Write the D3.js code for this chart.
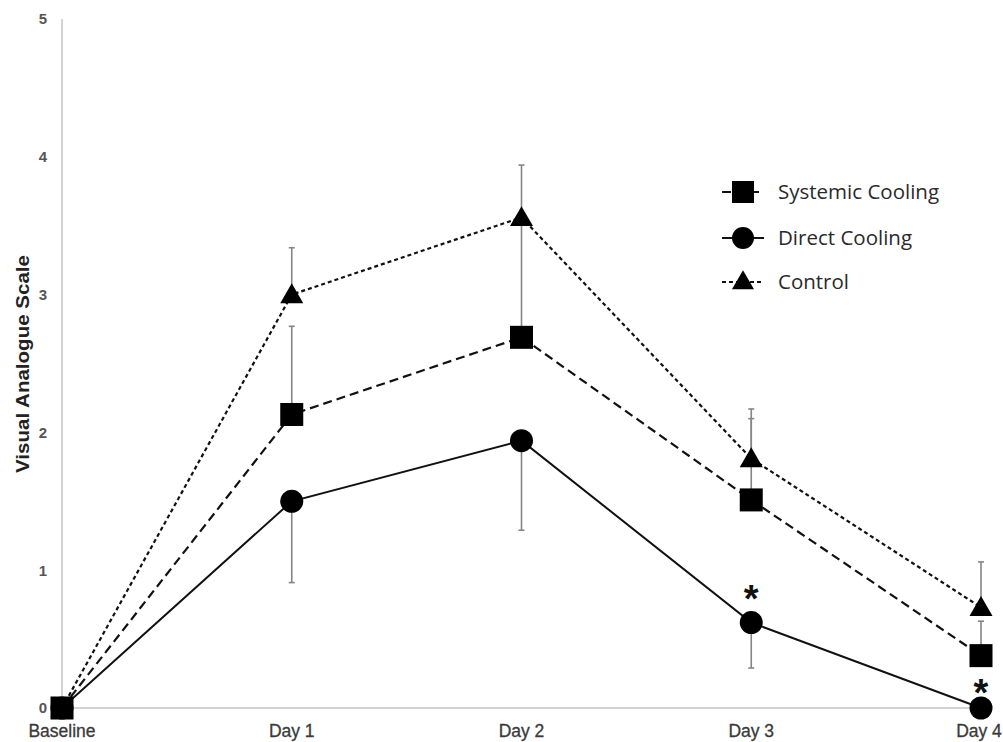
<!DOCTYPE html>
<html><head><meta charset="utf-8">
<script src="https://cdn.jsdelivr.net/npm/d3@7"></script>
<style>body{margin:0;background:#fff}svg{display:block}</style>
</head><body>
<svg id="c" width="1003" height="742"></svg>
<script>
const categories = ["Baseline","Day 1","Day 2","Day 3","Day 4"];
const yTicks = [0,1,2,3,4,5];
const systemicVals = [0, 2.13, 2.69, 1.51, 0.38];
const systemicErr  = [0, 0.64, 0.87, 0.59, 0.25];   // upward
const directVals   = [0, 1.50, 1.94, 0.62, 0.0];
const directErr    = [0, 0.59, 0.65, 0.33, 0];      // downward
const controlVals  = [0, 3.00, 3.56, 1.81, 0.73];
const controlErr   = [0, 0.34, 0.38, 0.36, 0.33];   // upward
const asterisks = [{cat:"Day 3", v:0.84},{cat:"Day 4", v:0.16}];

const svg = d3.select("#c");
const x = d3.scalePoint().domain(categories).range([62, 981]);
const y = d3.scaleLinear().domain([0,5]).range([708, 19]);

// axes
const axisCol = "#c4c4c4";
svg.append("line").attr("x1",62).attr("x2",62).attr("y1",y(5)).attr("y2",y(0)).attr("stroke",axisCol).attr("stroke-width",1.5);
svg.append("line").attr("x1",62).attr("x2",981).attr("y1",y(0)).attr("y2",y(0)).attr("stroke",axisCol).attr("stroke-width",1.5);

svg.append("g").selectAll("text").data(yTicks).join("text")
  .attr("x",47).attr("y",d=>y(d)).attr("dy","0.36em").attr("text-anchor","end")
  .attr("font-family","Liberation Sans, Arial, sans-serif").attr("font-size",15).attr("font-weight","bold").attr("fill","#555")
  .text(d=>d);

svg.append("g").selectAll("text").data(categories).join("text")
  .attr("x",(d,i)=>i===categories.length-1 ? x(d)-2 : x(d)).attr("y",737).attr("text-anchor","middle")
  .attr("font-family","Liberation Sans, Arial, sans-serif").attr("font-size",17.5).attr("fill","#3a3a3a")
  .attr("stroke","#3a3a3a").attr("stroke-width",0.3)
  .text(d=>d);

svg.append("text").attr("transform",`translate(29,364) rotate(-90)`).attr("text-anchor","middle")
  .attr("font-family","Liberation Sans, Arial, sans-serif").attr("font-size",18.5).attr("font-weight","bold").attr("fill","#222")
  .attr("textLength",218).attr("lengthAdjust","spacingAndGlyphs")
  .text("Visual Analogue Scale");

// error bars
function errBars(vals, errs, dir){
  const g = svg.append("g").attr("stroke","#858585").attr("stroke-width",1.6);
  categories.forEach((c,i)=>{
    if(!errs[i]) return;
    const y1 = y(vals[i]), y2 = y(vals[i] + dir*errs[i]);
    g.append("line").attr("x1",x(c)).attr("x2",x(c)).attr("y1",y1).attr("y2",y2);
    g.append("line").attr("x1",x(c)-3).attr("x2",x(c)+3).attr("y1",y2).attr("y2",y2);
  });
}
errBars(controlVals, controlErr, 1);
errBars(systemicVals, systemicErr, 1);
errBars(directVals, directErr, -1);

// lines
const lineGen = d3.line().x((d,i)=>x(categories[i])).y(d=>y(d));
svg.append("path").datum(controlVals).attr("d",lineGen).attr("fill","none").attr("stroke","#111").attr("stroke-width",2.2).attr("stroke-dasharray","4,3");
svg.append("path").datum(systemicVals).attr("d",lineGen).attr("fill","none").attr("stroke","#111").attr("stroke-width",2.2).attr("stroke-dasharray","9,5");
svg.append("path").datum(directVals).attr("d",lineGen).attr("fill","none").attr("stroke","#111").attr("stroke-width",2);

// markers
const tri = d3.symbol().type(d3.symbolTriangle).size(230);
svg.append("g").selectAll("path").data(controlVals).join("path")
  .attr("d",tri).attr("transform",(d,i)=>`translate(${x(categories[i])},${y(d)+2})`).attr("fill","#000");
svg.append("g").selectAll("circle").data(directVals).join("circle")
  .attr("cx",(d,i)=>x(categories[i])).attr("cy",d=>y(d)).attr("r",11.5).attr("fill","#000");
svg.append("g").selectAll("rect").data(systemicVals).join("rect")
  .attr("x",(d,i)=>x(categories[i])-11.5).attr("y",d=>y(d)-11.5).attr("width",23).attr("height",23).attr("fill","#000");

// asterisks
svg.append("g").selectAll("text").data(asterisks).join("text")
  .attr("x",d=>x(d.cat)).attr("y",d=>y(d.v)).attr("dy","0.52em").attr("text-anchor","middle")
  .attr("font-family","Liberation Sans, Arial, sans-serif").attr("font-size",38).attr("font-weight","bold").attr("fill","#111")
  .text("*");

// legend
const legend = [
  {name:"Systemic Cooling", dash:"9,5", shape:"square"},
  {name:"Direct Cooling", dash:null, shape:"circle"},
  {name:"Control", dash:"4,3", shape:"triangle"}
];
const ly = [192, 238, 282];
const lg = svg.append("g");
legend.forEach((d,i)=>{
  const g = lg.append("g").attr("transform",`translate(743,${ly[i]})`);
  g.append("line").attr("x1",-21).attr("x2",21).attr("stroke","#111").attr("stroke-width",1.8).attr("stroke-dasharray",d.dash);
  if(d.shape==="square") g.append("rect").attr("x",-11).attr("y",-11).attr("width",22).attr("height",22).attr("fill","#000");
  if(d.shape==="circle") g.append("circle").attr("r",11).attr("fill","#000");
  if(d.shape==="triangle") g.append("path").attr("d",d3.symbol().type(d3.symbolTriangle).size(210)).attr("transform","translate(0,1)").attr("fill","#000");
  g.append("text").attr("x",35).attr("dy","0.35em").attr("font-family","Open Sans, Liberation Sans, sans-serif")
    .attr("font-size",20.5).attr("fill","#2a2a2a").text(d.name);
});
</script>
</body></html>
